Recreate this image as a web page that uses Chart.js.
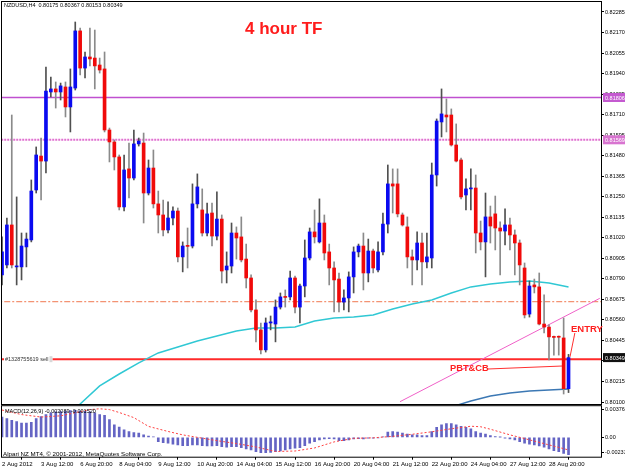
<!DOCTYPE html>
<html><head><meta charset="utf-8">
<script src="https://cdn.jsdelivr.net/npm/chart.js@4.4.1/dist/chart.umd.min.js"></script>
<style>
html,body{margin:0;padding:0;background:#fff;}
#wrap{position:relative;width:625px;height:469px;overflow:hidden;background:#fff;}
#c1{position:absolute;left:0;top:0;}
#c2{position:absolute;left:0;top:400px;}
.t{position:absolute;white-space:nowrap;font-family:'Liberation Sans',Arial,sans-serif;line-height:1;}
</style></head><body>
<div id="wrap">
<canvas id="c1" width="625" height="405"></canvas>
<canvas id="c2" width="625" height="69"></canvas>
<div class="t" style="left:4px;top:3px;font-size:5.5px;color:#000">NZDUSD,H4&nbsp; 0.80175 0.80367 0.80153 0.80349</div>
<div class="t" style="left:245px;top:20px;font-size:17px;font-weight:bold;color:#ff1c1c">4 hour TF</div>
<div class="t" style="left:571px;top:324px;font-size:9.5px;font-weight:bold;color:#ff2020">ENTRY</div>
<div class="t" style="left:450px;top:364px;font-size:9.3px;font-weight:bold;color:#ff2020">PBT&amp;CB</div>
<div class="t" style="left:5px;top:409px;font-size:5.5px;color:#000">MACD(12,26,9) -0.002089 -0.001520</div>
<div class="t" style="left:3px;top:451px;font-size:6.2px;color:#000">Alpari NZ MT4, © 2001-2012, MetaQuotes Software Corp.</div>
</div>
<script>
// ---------- DATA ----------
const tickLabels = ['2 Aug 2012','3 Aug 12:00','6 Aug 20:00','8 Aug 04:00','9 Aug 12:00','10 Aug 20:00','14 Aug 04:00','15 Aug 12:00','16 Aug 20:00','20 Aug 04:00','21 Aug 12:00','22 Aug 20:00','24 Aug 04:00','27 Aug 12:00','28 Aug 20:00'];
const barsPerLabel = 8;
const priceTicks = [0.82285,0.82170,0.82055,0.81940,0.81825,0.81710,0.81595,0.81480,0.81365,0.81250,0.81135,0.81020,0.80905,0.80790,0.80675,0.80560,0.80445,0.80330,0.80215,0.80100];

const open = [
0.80812,0.80868,0.81092,0.80857,0.80857,0.80969,0.81008,0.81288,0.81478,0.81450,
0.81837,0.81854,0.81837,0.81865,0.81753,0.81859,0.82179,0.81971,0.82033,0.82027,
0.81988,0.81966,0.81624,0.81557,0.81473,0.81193,0.81406,0.81355,0.81546,0.81551,
0.81271,0.81411,0.81210,0.81148,0.81064,0.81131,0.81170,0.80913,0.80974,0.80974,
0.81210,0.81176,0.81047,0.81159,0.81030,0.81125,0.80840,0.80862,0.81047,0.81025,
0.80901,0.80795,0.80616,0.80504,0.80392,0.80543,0.80537,0.80632,0.80689,0.80689,
0.80795,0.80632,0.80750,0.80907,0.81053,0.80997,0.81103,0.80941,0.80851,0.80789,
0.80660,0.80683,0.80801,0.80941,0.80974,0.80823,0.80946,0.80840,0.80941,0.81097,
0.81322,0.81322,0.81148,0.81081,0.80913,0.80896,0.80991,0.80885,0.80907,0.81372,
0.81669,0.81708,0.81708,0.81540,0.81456,0.81260,0.81294,0.81299,0.81047,0.80997,
0.81137,0.81154,0.81075,0.81058,0.81092,0.81036,0.80991,0.80851,0.80593,0.80756,
0.80745,0.80537,0.80520,0.80465,0.80465,0.80459,0.80175];
const high = [
0.81025,0.81131,0.81708,0.81249,0.81047,0.81047,0.81344,0.81529,0.81579,0.81977,
0.81921,0.81893,0.81887,0.81893,0.81966,0.82229,0.82195,0.82061,0.82195,0.82184,
0.82027,0.82061,0.81635,0.81568,0.81484,0.81484,0.81551,0.81624,0.81579,0.81607,
0.81456,0.81512,0.81282,0.81232,0.81221,0.81193,0.81187,0.80997,0.81075,0.81322,
0.81378,0.81294,0.81215,0.81215,0.81277,0.81148,0.80941,0.81103,0.81081,0.81137,
0.80985,0.80812,0.80672,0.80543,0.80571,0.80582,0.80672,0.80711,0.80728,0.80834,
0.80806,0.80761,0.81008,0.81075,0.81176,0.81238,0.81148,0.80985,0.80885,0.80823,
0.80728,0.80829,0.80969,0.80985,0.81047,0.81013,0.80957,0.80997,0.81159,0.81428,
0.81406,0.81406,0.81159,0.81137,0.80952,0.81053,0.81047,0.81047,0.81439,0.81686,
0.81854,0.81798,0.81742,0.81658,0.81467,0.81350,0.81406,0.81372,0.81114,0.81271,
0.81198,0.81254,0.81109,0.81182,0.81131,0.81064,0.81008,0.80879,0.80778,0.80789,
0.80823,0.80700,0.80532,0.80470,0.80470,0.80571,0.80367];
const low = [
0.80756,0.80851,0.80851,0.80756,0.80784,0.80857,0.80997,0.81271,0.81232,0.81383,
0.81809,0.81747,0.81792,0.81697,0.81613,0.81848,0.81932,0.81915,0.81983,0.81854,
0.81943,0.81613,0.81445,0.81400,0.81176,0.81170,0.81243,0.81344,0.81534,0.81103,
0.81260,0.81187,0.81047,0.81030,0.81047,0.81092,0.80885,0.80829,0.80851,0.80963,
0.81187,0.81030,0.81030,0.80974,0.81008,0.80767,0.80767,0.80823,0.80901,0.80885,
0.80739,0.80605,0.80437,0.80369,0.80380,0.80504,0.80437,0.80621,0.80632,0.80672,
0.80599,0.80543,0.80689,0.80896,0.80991,0.80991,0.80896,0.80756,0.80605,0.80605,
0.80616,0.80605,0.80711,0.80913,0.80728,0.80773,0.80823,0.80829,0.80924,0.81047,
0.81159,0.81137,0.81086,0.80851,0.80756,0.80840,0.80756,0.80851,0.80851,0.81310,
0.81585,0.81613,0.81534,0.81445,0.81238,0.81176,0.81176,0.80935,0.80952,0.80801,
0.80991,0.80952,0.80812,0.80980,0.80952,0.80812,0.80756,0.80571,0.80576,0.80711,
0.80532,0.80487,0.80336,0.80363,0.80363,0.80145,0.80153];
const close = [
0.80941,0.81092,0.80868,0.80862,0.80974,0.81013,0.81282,0.81484,0.81450,0.81842,
0.81854,0.81837,0.81871,0.81753,0.81865,0.82179,0.81971,0.82033,0.82022,0.81983,
0.81960,0.81624,0.81557,0.81473,0.81193,0.81400,0.81355,0.81546,0.81562,0.81271,
0.81411,0.81210,0.81148,0.81064,0.81131,0.81170,0.80913,0.80974,0.80972,0.81210,
0.81305,0.81047,0.81154,0.81030,0.81125,0.80834,0.80862,0.81047,0.81019,0.80896,
0.80795,0.80616,0.80504,0.80392,0.80543,0.80549,0.80632,0.80689,0.80686,0.80795,
0.80632,0.80750,0.80907,0.81053,0.81025,0.81103,0.80935,0.80851,0.80784,0.80660,
0.80683,0.80801,0.80941,0.80974,0.80823,0.80946,0.80851,0.80941,0.81097,0.81322,
0.81310,0.81154,0.81092,0.80913,0.80896,0.80991,0.80885,0.80913,0.81372,0.81674,
0.81714,0.81697,0.81540,0.81450,0.81249,0.81294,0.81299,0.81047,0.80997,0.81137,
0.81086,0.81075,0.81058,0.81092,0.81036,0.80991,0.80868,0.80588,0.80750,0.80745,
0.80537,0.80520,0.80465,0.80462,0.80463,0.80175,0.80349];

// moving averages (bar index, price)
const maCyanBars = [14,16,20,24,28,32,36,40,44,48,52,56,60,64,68,72,76,80,84,88,92,96,100,104,108,112,116];
const maCyanValues = [0.80033,0.80089,0.80190,0.80257,0.80319,0.80375,0.80408,0.80442,0.80470,0.80498,0.80515,0.80515,0.80520,0.80554,0.80571,0.80576,0.80588,0.80621,0.80649,0.80672,0.80711,0.80745,0.80761,0.80773,0.80778,0.80767,0.80745];
const maBlueBars = [92,96,100,104,108,112,116];
const maBlueValues = [0.80072,0.80106,0.80134,0.80151,0.80162,0.80168,0.80173];

// drawn objects
const levelMagenta = 0.81806;
const levelPink = 0.81569;
const levelCoral = 0.80662;
const orderPrice = 0.80340;
const orderLabel = '#1328755619 sell';
const bidPrice = 0.80349;
const trendBars = [81.5, 122.4];
const trendValues = [0.80102, 0.80681];
const entryBars = [117.3, 116.3];
const entryValues = [0.80487, 0.80353];
const pbtBars = [99.5, 114.9];
const pbtValues = [0.80285, 0.80302];

// MACD
const macdMain = [
0.00246,0.00226,0.00205,0.00189,0.00173,0.00173,0.00180,0.00226,0.00250,0.00274,
0.00295,0.00307,0.00311,0.00315,0.00323,0.00327,0.00317,0.00315,0.00307,0.00295,
0.00274,0.00266,0.00213,0.00152,0.00124,0.00091,0.00071,0.00059,0.00051,0.00030,
0.00015,0.00005,-0.00051,-0.00063,-0.00071,-0.00083,-0.00091,-0.00100,-0.00100,-0.00091,
-0.00091,-0.00100,-0.00104,-0.00104,-0.00100,-0.00112,-0.00120,-0.00112,-0.00112,-0.00124,
-0.00140,-0.00152,-0.00173,-0.00185,-0.00185,-0.00181,-0.00173,-0.00165,-0.00152,-0.00140,
-0.00132,-0.00124,-0.00100,-0.00071,-0.00051,-0.00030,-0.00018,-0.00015,-0.00020,-0.00039,
-0.00039,-0.00030,-0.00018,-0.00015,-0.00018,-0.00009,-0.00009,-0.00006,0.00006,0.00063,
0.00071,0.00063,0.00051,0.00039,0.00030,0.00030,0.00022,0.00022,0.00071,0.00120,
0.00152,0.00165,0.00165,0.00152,0.00132,0.00120,0.00104,0.00071,0.00051,0.00039,
0.00022,0.00010,0.00002,-0.00009,-0.00020,-0.00030,-0.00051,-0.00071,-0.00083,-0.00091,
-0.00104,-0.00120,-0.00140,-0.00161,-0.00173,-0.00193,-0.002089];
const signalBars = [0,4,8,12,16,18,20,22,24,27,30,34,37,40,44,48,52,56,60,64,68,72,76,80,84,88,92,96,98,100,104,108,112,116];
const signalValues = [0.00330,0.00275,0.00245,0.00260,0.00310,0.00335,0.00345,0.00335,0.00300,0.00238,0.00132,0.00071,0.00030,0.00000,-0.00040,-0.00075,-0.00116,-0.00171,-0.00165,-0.00128,-0.00055,-0.00012,-0.00006,0.00012,0.00037,0.00067,0.00104,0.00134,0.00128,0.00098,0.00030,-0.00030,-0.00091,-0.00152];
const macdMax = 0.003760, macdMin = -0.002337;
const macdTickValues = [0.00335, 0, -0.00177];
const macdTickLabels = ['0.003760', '0.00', '-0.002337'];

// ---------- CHART ----------
const xMin = 0, xMax = 122.65;
const FONT = "'Liberation Sans', Arial, sans-serif";
const bull = open.map((o, i) => close[i] >= o);

function pts(xs, ys) { return xs.map((x, i) => ({x: x, y: ys[i]})); }
function hline(v) { return [{x: xMin - 2, y: v}, {x: xMax + 2, y: v}]; }
function lineDs(data, color, width, dash, order) {
  return {type: 'line', data: data, borderColor: color, borderWidth: width, borderDash: dash || [],
          pointRadius: 0, fill: false, tension: 0, order: order};
}

const mainDeco = {
  id: 'mainDeco',
  afterDraw(chart) {
    const {ctx, chartArea: a, scales: {y}} = chart;
    ctx.save();
    ctx.strokeStyle = '#000'; ctx.lineWidth = 1;
    ctx.strokeRect(a.left - 0.5, a.top - 0.5, a.right - a.left + 1, a.bottom - a.top + 1);
    ctx.font = '5.5px ' + FONT;
    ctx.textBaseline = 'middle';
    const oy = y.getPixelForValue(orderPrice);
    const w = ctx.measureText(orderLabel).width;
    ctx.fillStyle = '#fff'; ctx.fillRect(a.left + 2, oy - 3.5, w + 5, 7);
    ctx.fillStyle = '#d8d8d8'; ctx.fillRect(a.left + 3 + w + 1, oy - 3, 3, 6);
    ctx.fillStyle = '#333'; ctx.fillText(orderLabel, a.left + 3, oy);
    const boxes = [[levelMagenta, '#c45ad0', '#fff'], [levelPink, '#d874d0', '#fff'], [bidPrice, '#111', '#fff']];
    boxes.forEach(([v, bg, fg]) => {
      const py = y.getPixelForValue(v);
      ctx.fillStyle = bg; ctx.fillRect(a.right + 2, py - 4.5, 23, 9);
      ctx.fillStyle = fg; ctx.fillText(v.toFixed(5), a.right + 4, py + 0.5);
    });
    ctx.restore();
  }
};

new Chart(document.getElementById('c1'), {
  type: 'bar',
  data: {datasets: [
    {type: 'bar', data: open.map((o, i) => ({x: i, y: [o, close[i]]})),
     backgroundColor: bull.map(b => b ? '#0a0af0' : '#f00a0a'), barThickness: 3, minBarLength: 1, grouped: false, order: 1},
    {type: 'bar', data: open.map((o, i) => ({x: i, y: [low[i], high[i]]})),
     backgroundColor: bull.map(b => b ? '#505050' : '#8a8a8a'), barThickness: 1, grouped: false, order: 2},
    lineDs(pts(maCyanBars, maCyanValues), '#30c8d4', 1.5, [], 3),
    lineDs(pts(maBlueBars, maBlueValues), '#3c78b4', 1.5, [], 3),
    lineDs(pts(trendBars, trendValues), '#f060c8', 1, [], 3),
    lineDs(hline(levelMagenta), '#c050d0', 1.5, [], 4),
    lineDs(hline(levelPink), '#e070d0', 2, [2, 1], 4),
    lineDs(hline(levelCoral), '#f07850', 1, [6, 2, 2, 2], 4),
    lineDs(hline(orderPrice), '#ff2a2a', 2, [], 4),
    lineDs(pts(entryBars, entryValues), '#ff3030', 1, [], 3),
    lineDs(pts(pbtBars, pbtValues), '#ff3030', 1, [], 3)
  ]},
  options: {
    responsive: false, animation: false, events: [],
    layout: {padding: {left: 2, top: 2, right: 0, bottom: 1}},
    plugins: {legend: {display: false}, tooltip: {enabled: false}},
    scales: {
      x: {type: 'linear', display: false, min: xMin, max: xMax, offset: false},
      y: {type: 'linear', position: 'right', min: 0.80089, max: 0.82341,
          afterFit: s => { s.width = 24; s.paddingTop = 0; s.paddingBottom = 0; },
          afterBuildTicks: s => { s.ticks = priceTicks.map(v => ({value: v})); },
          ticks: {callback: v => Number(v).toFixed(5), font: {size: 5.5, family: FONT}, color: '#000', padding: 1, autoSkip: false},
          grid: {drawOnChartArea: false, tickLength: 3, color: '#000'},
          border: {display: false}}
    }
  },
  plugins: [mainDeco]
});

const subDeco = {
  id: 'subDeco',
  afterDraw(chart) {
    const {ctx, chartArea: a} = chart;
    ctx.save();
    ctx.strokeStyle = '#000'; ctx.lineWidth = 1;
    ctx.strokeRect(a.left - 0.5, a.top - 0.5, a.right - a.left + 1, a.bottom - a.top + 1);
    ctx.restore();
  }
};

new Chart(document.getElementById('c2'), {
  type: 'bar',
  data: {datasets: [
    {type: 'bar', data: macdMain.map((v, i) => ({x: i, y: v})), backgroundColor: '#6464c4', barThickness: 2, grouped: false, order: 2},
    lineDs(pts(signalBars, signalValues), '#ff4040', 1, [2, 2], 1)
  ]},
  options: {
    responsive: false, animation: false, events: [],
    layout: {padding: {left: 2, top: 6.2, right: 0, bottom: 0}},
    plugins: {legend: {display: false}, tooltip: {enabled: false}},
    scales: {
      x: {type: 'linear', min: xMin, max: xMax, offset: false, position: 'bottom',
          afterFit: s => { s.height = 12.3; s.paddingLeft = 0; s.paddingRight = 0; },
          afterBuildTicks: s => { s.ticks = tickLabels.map((l, k) => ({value: k * barsPerLabel})); },
          ticks: {callback: v => tickLabels[Math.round(v / barsPerLabel)], align: 'start', autoSkip: false, maxRotation: 0,
                  font: {size: 6, family: FONT}, color: '#000', padding: 1},
          grid: {drawOnChartArea: false, tickLength: 3, color: '#000'},
          border: {display: false}},
      y: {type: 'linear', position: 'right', min: macdMin, max: macdMax,
          afterFit: s => { s.width = 24; s.paddingTop = 0; s.paddingBottom = 0; },
          afterBuildTicks: s => { s.ticks = macdTickValues.map(v => ({value: v})); },
          ticks: {callback: (v, i) => macdTickLabels[i], font: {size: 5.5, family: FONT}, color: '#000', padding: 1, autoSkip: false},
          grid: {drawOnChartArea: false, tickLength: 3, color: '#000'},
          border: {display: false}}
    }
  },
  plugins: [subDeco]
});
</script>
</body></html>
